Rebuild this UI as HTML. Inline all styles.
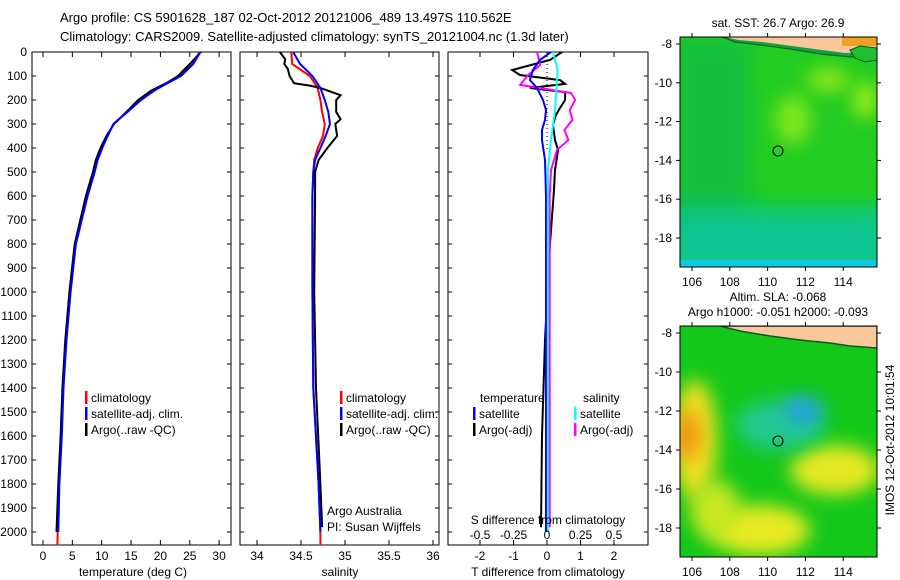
<!DOCTYPE html>
<html><head><meta charset="utf-8"><style>
body{margin:0;background:#fff}
svg{display:block;font-family:"Liberation Sans",sans-serif;font-size:12px}
</style></head><body>
<svg id="c" width="900" height="580" viewBox="0 0 900 580">
<defs>
<filter id="bl" x="-50%" y="-50%" width="200%" height="200%"><feGaussianBlur stdDeviation="9"/></filter>
<clipPath id="m1"><rect x="680" y="37" width="197" height="230"/></clipPath>
<clipPath id="m2"><rect x="680" y="326" width="197" height="231"/></clipPath>
</defs>
<text x="60" y="22" font-size="13">Argo profile: CS 5901628_187 02-Oct-2012 20121006_489 13.497S 110.562E</text>
<text x="60" y="41" font-size="13">Climatology: CARS2009. Satellite-adjusted climatology: synTS_20121004.nc (1.3d later)</text>

<g id="map1">
<g clip-path="url(#m1)">
<rect x="680" y="37" width="197" height="230" fill="#22cc22"/>
<rect x="670" y="37" width="80" height="200" fill="#10b850" opacity="0.6" filter="url(#bl)"/>
<rect x="660" y="205" width="240" height="70" fill="#08c488" opacity="0.85" filter="url(#bl)"/>
<rect x="680" y="225" width="197" height="35" fill="#10c8b8" opacity="0.5" filter="url(#bl)"/>
<rect x="680" y="260" width="197" height="7" fill="#10c8e0"/>
<ellipse cx="793" cy="120" rx="18" ry="25" fill="#7ee81a" filter="url(#bl)"/>
<ellipse cx="828" cy="80" rx="22" ry="12" fill="#8ee818" filter="url(#bl)"/>
<ellipse cx="865" cy="100" rx="12" ry="18" fill="#a0ee18" filter="url(#bl)"/>
<polygon points="722,37 735,42 760,45 790,49 820,54 850,57 877,56 877,37" fill="#10a040" stroke="#0a5a20" stroke-width="1"/>
<polygon points="725,37 738,40 762,42 792,46 822,50 845,53 877,52 877,37" fill="#f8c89a"/>
<rect x="842" y="37" width="35" height="9" fill="#f0a020"/>
<polygon points="850,50 860,46 877,48 877,60 865,62 855,58" fill="#20c030" stroke="#0a5a20"/>
</g>
<rect x="680" y="37" width="197" height="230" fill="none" stroke="#000"/>
<circle cx="778" cy="151" r="5" fill="none" stroke="#000"/>
<text x="778" y="27" text-anchor="middle">sat. SST: 26.7 Argo: 26.9</text>
</g>

<g id="map2">
<g clip-path="url(#m2)">
<rect x="680" y="326" width="197" height="231" fill="#14c81a"/>
<ellipse cx="695" cy="440" rx="22" ry="60" fill="#f0e020" filter="url(#bl)"/>
<ellipse cx="688" cy="435" rx="12" ry="25" fill="#f09010" filter="url(#bl)"/>
<ellipse cx="760" cy="530" rx="50" ry="25" fill="#e8ea20" filter="url(#bl)"/>
<ellipse cx="835" cy="470" rx="45" ry="25" fill="#e4e820" filter="url(#bl)"/>
<ellipse cx="715" cy="510" rx="25" ry="30" fill="#c8e820" filter="url(#bl)"/>
<ellipse cx="780" cy="425" rx="45" ry="25" fill="#20c890" filter="url(#bl)"/>
<ellipse cx="803" cy="410" rx="20" ry="14" fill="#20a0e0" filter="url(#bl)"/>
<polygon points="720,326 740,331 770,336 800,340 830,343 850,346 877,348 877,326" fill="#f8c89a" stroke="#0a5a20" stroke-width="1.5"/>
</g>
<rect x="680" y="326" width="197" height="231" fill="none" stroke="#000"/>
<circle cx="778" cy="441" r="5" fill="none" stroke="#000"/>
<text x="778" y="301" text-anchor="middle">Altim. SLA: -0.068</text>
<text x="778" y="316" text-anchor="middle">Argo h1000: -0.051 h2000: -0.093</text>
</g>
<text transform="translate(894,440) rotate(-90)" text-anchor="middle">IMOS 12-Oct-2012 10:01:54</text>
<g id="dyn"></g>
</svg>
<script>
// ---- data ----
const tDepth=[0,50,100,130,160,200,250,300,350,400,450,500,600,800,1000,1200,1400,1600,1800,2000,2055];
const tClim=[26.7,25.5,23.3,21,18.8,16.5,14.3,12,11,10,9.2,8.7,7.5,5.5,4.6,3.9,3.4,3.1,2.7,2.5,2.45];
const tSat=[26.8,25.6,23.5,21.2,19,16.7,14.4,12,11,10.1,9.3,8.8,7.6,5.6,4.7,4,3.5,3.2,2.8,2.6];
const tArgo=[26.9,25.0,23.0,21.0,18.5,16.2,14.2,12.1,10.8,9.8,9.0,8.5,7.3,5.4,4.5,3.8,3.3,3.0,2.6,2.3];
const sDepth=[0,50,100,150,200,250,300,350,400,450,500,600,1000,1400,1800,2000,2055];
const sClim=[34.39,34.4,34.6,34.69,34.72,34.74,34.77,34.75,34.69,34.65,34.64,34.63,34.63,34.64,34.7,34.72,34.72];
const sSat=[34.41,34.49,34.63,34.72,34.77,34.81,34.83,34.78,34.72,34.66,34.64,34.63,34.63,34.64,34.7,34.72];
const aDepth=[0,30,50,70,100,130,140,150,180,200,250,280,300,350,400,450,500,600,1000,1400,1800,1980];
const sArgo=[34.26,34.32,34.31,34.35,34.37,34.42,34.6,34.72,34.95,34.9,34.9,34.95,34.89,34.91,34.8,34.7,34.66,34.66,34.65,34.67,34.72,34.74];
const dtArgoDepth=[0,33,75,96,117,133,150,167,200,233,262,304,367,408,492,575,800,1200,1600,1980];
const dtArgo=[0.45,0.09,-1.04,-0.81,0.39,0.54,-0.51,0.54,0.54,0.39,0.27,0.18,0.24,0.33,0.24,0.21,0.09,-0.06,-0.15,-0.18];
const dtSatDepth=[0,33,75,117,150,200,242,283,325,367,450,600,1000,1500,2000];
const dtSat=[0.12,-0.21,-0.42,-0.51,-0.3,-0.12,-0.03,-0.06,-0.15,-0.15,-0.06,-0.03,-0.03,-0.03,-0.03];
const dsArgoDepth=[0,54,96,137,171,200,242,283,325,367,408,492,600,1000,1500,1980];
const dsArgo=[-0.075,-0.05,-0.14,-0.2,0.18,0.21,0.17,0.19,0.13,0.16,0.075,0.03,0.02,0.02,0.02,0.02];
const dsSatDepth=[0,75,158,242,367,492,600,2000];
const dsSat=[0.045,0.08,0.07,0.06,0.03,0.007,0.007,0.007];
const depthTicks=[0,100,200,300,400,500,600,700,800,900,1000,1100,1200,1300,1400,1500,1600,1700,1800,1900,2000];
const tTicks=[0,5,10,15,20,25,30];
const sTicks=[34,34.5,35,35.5,36];
const dtTicks=[-2,-1,0,1,2];
const dsTicks=[-0.5,-0.25,0,0.25,0.5];
const latTicks=[-8,-10,-12,-14,-16,-18];
const lonTicks=[106,108,110,112,114];
// ---- scales ----
const Y=d=>52+d*0.24;
const xT=t=>43+t*5.87, xS=s=>257+(s-34)*88, xDT=v=>547+v*33.5, xDS=v=>547+v*134;
const lon=l=>692+(l-106)*18.9;
const lat1=a=>44+(-8-a)*19.4, lat2=a=>333+(-8-a)*19.5;
const NS='http://www.w3.org/2000/svg', G=document.getElementById('dyn');
function mk(tag,at,parent){const e=document.createElementNS(NS,tag);for(const k in at)e.setAttribute(k,at[k]);(parent||G).appendChild(e);return e;}
function line(xs,ds,fx,col,name,w){
  const p=mk('polyline',{points:xs.map((v,i)=>fx(v).toFixed(1)+','+Y(ds[i]).toFixed(1)).join(' '),fill:'none',stroke:col,'stroke-width':w||2});
  
  
}
function txt(x,y,s,anchor,name,size){const t=mk('text',{x:x,y:y,'text-anchor':anchor||'start'});if(size)t.setAttribute('font-size',size);t.textContent=s;
  
  return t;}
function frame(x0,x1,name){const r=mk('rect',{x:x0,y:52,width:x1-x0,height:493,fill:'none',stroke:'#000'});
  
  
  depthTicks.forEach(d=>{mk('line',{x1:x0,x2:x0+4,y1:Y(d),y2:Y(d),stroke:'#000'});mk('line',{x1:x1,x2:x1-4,y1:Y(d),y2:Y(d),stroke:'#000'});});}
// panel 1
frame(32,231,'temperature-panel');
depthTicks.forEach(d=>txt(27,Y(d)+4,String(d),'end','depth-tick-label'));
tTicks.forEach(t=>{mk('line',{x1:xT(t),x2:xT(t),y1:545,y2:540,stroke:'#000'});mk('line',{x1:xT(t),x2:xT(t),y1:52,y2:57,stroke:'#000'});txt(xT(t),560,String(t),'middle','temperature-tick-label');});
txt(133,576,'temperature (deg C)','middle','x-axis-title-temperature');
line(tClim,tDepth,xT,'#f00','temperature-climatology-line');
line(tArgo,tDepth.slice(0,tArgo.length),xT,'#000','temperature-argo-line');
line(tSat,tDepth.slice(0,tSat.length),xT,'#00f','temperature-satellite-line');
// panel 2
frame(240,439,'salinity-panel');
sTicks.forEach(s=>{mk('line',{x1:xS(s),x2:xS(s),y1:545,y2:540,stroke:'#000'});mk('line',{x1:xS(s),x2:xS(s),y1:52,y2:57,stroke:'#000'});txt(xS(s),560,String(s),'middle','salinity-tick-label');});
txt(340,576,'salinity','middle','x-axis-title-salinity');
line(sClim,sDepth,xS,'#f00','salinity-climatology-line');
line(sArgo,aDepth,xS,'#000','salinity-argo-line');
line(sSat,sDepth.slice(0,sSat.length),xS,'#00f','salinity-satellite-line');
txt(327,549-34,'Argo Australia','start','credit-argo-australia');
txt(327,531,'PI: Susan Wijffels','start','credit-pi');
// panel 3
frame(448,648,'difference-panel');
dtTicks.forEach(v=>{mk('line',{x1:xDT(v),x2:xDT(v),y1:545,y2:540,stroke:'#000'});mk('line',{x1:xDT(v),x2:xDT(v),y1:52,y2:57,stroke:'#000'});txt(xDT(v),560,String(v),'middle','t-diff-tick-label');});
mk('line',{x1:547,x2:547,y1:52,y2:150,stroke:'#000','stroke-dasharray':'1,3'});
line(dtArgo,dtArgoDepth,xDT,'#000','t-diff-argo-line');
line(dsArgo,dsArgoDepth,xDS,'#f0f','s-diff-argo-line');
line(dtSat,dtSatDepth,xDT,'#00f','t-diff-satellite-line');
line(dsSat,dsSatDepth,xDS,'#0ff','s-diff-satellite-line');
dsTicks.forEach(v=>txt(xDS(v),539,String(v),'middle','s-diff-tick-label'));
txt(548,524,'S difference from climatology','middle','s-diff-axis-title');
txt(548,576,'T difference from climatology','middle','x-axis-title-t-diff');
// legends
function leg(x,y,col,s,name){mk('rect',{x:x,y:y-11,width:2.5,height:13,fill:col});txt(x+6,y,s,'start',name);}
[[85,'legend-climatology'],[340,'legend-climatology-sal']].forEach(([x,n])=>{
  leg(x,402,'#f00','climatology',n);leg(x,418,'#00f','satellite-adj. clim.','legend-satellite-adj');leg(x,434,'#000','Argo(..raw -QC)','legend-argo-raw');});
txt(480,402,'temperature','start','legend-temperature-header');
txt(583,402,'salinity','start','legend-salinity-header');
leg(473,418,'#00f','satellite','legend-t-satellite');leg(473,434,'#000','Argo(-adj)','legend-t-argo');
leg(574,418,'#0ff','satellite','legend-s-satellite');leg(574,434,'#f0f','Argo(-adj)','legend-s-argo');
// map axes
latTicks.forEach(a=>{mk('line',{x1:680,x2:676,y1:lat1(a),y2:lat1(a),stroke:'#000'});txt(672,lat1(a)+4,String(a),'end','sst-lat-tick');
  mk('line',{x1:877,x2:881,y1:lat1(a),y2:lat1(a),stroke:'#000'});
  mk('line',{x1:680,x2:676,y1:lat2(a),y2:lat2(a),stroke:'#000'});txt(672,lat2(a)+4,String(a),'end','sla-lat-tick');
  mk('line',{x1:877,x2:881,y1:lat2(a),y2:lat2(a),stroke:'#000'});});
lonTicks.forEach(l=>{mk('line',{x1:lon(l),x2:lon(l),y1:267,y2:271,stroke:'#000'});mk('line',{x1:lon(l),x2:lon(l),y1:37,y2:33,stroke:'#000'});txt(lon(l),286,String(l),'middle','sst-lon-tick');
  mk('line',{x1:lon(l),x2:lon(l),y1:557,y2:561,stroke:'#000'});mk('line',{x1:lon(l),x2:lon(l),y1:326,y2:322,stroke:'#000'});txt(lon(l),576,String(l),'middle','sla-lon-tick');});
</script>
</body></html>
